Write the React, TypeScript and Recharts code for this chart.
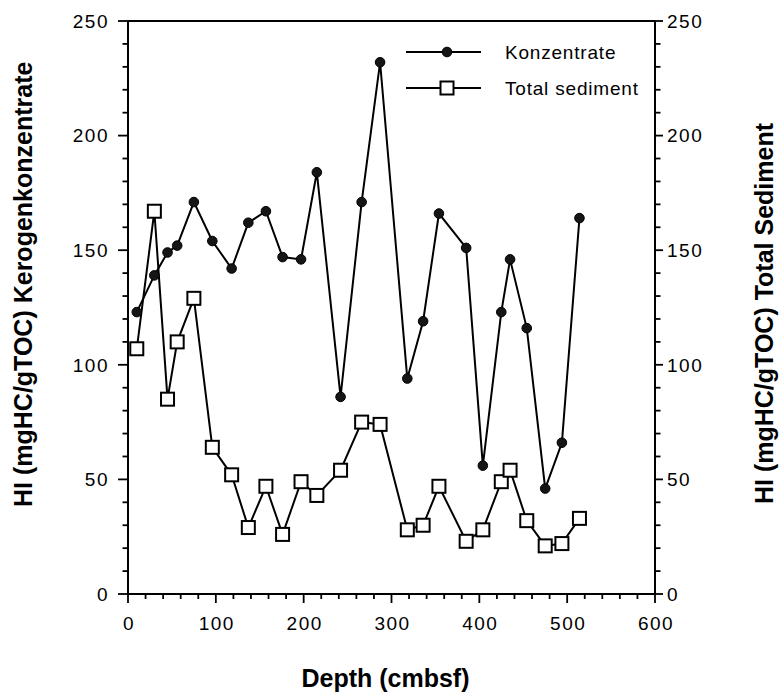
import React from 'react';
import { LineChart, Line, XAxis, YAxis, ReferenceLine, Legend } from 'recharts';

// Depth (cmbsf) of each sample
const depths = [10, 30, 45, 56, 75, 96, 118, 137, 157, 176, 197, 215, 242, 266, 287, 318, 336, 354, 385, 404, 425, 435, 454, 475, 494, 514];
// HI Kerogenkonzentrate
const konzentrate = [123, 139, 149, 152, 171, 154, 142, 162, 167, 147, 146, 184, 86, 171, 232, 94, 119, 166, 151, 56, 123, 146, 116, 46, 66, 164];
// HI Total sediment
const totalSediment = [107, 167, 85, 110, 129, 64, 52, 29, 47, 26, 49, 43, 54, 75, 74, 28, 30, 47, 23, 28, 49, 54, 32, 21, 22, 33];

const xMajorTicks = [0, 100, 200, 300, 400, 500, 600];
const xAllTicks = [0, 20, 40, 60, 80, 100, 120, 140, 160, 180, 200, 220, 240, 260, 280, 300, 320, 340, 360, 380, 400, 420, 440, 460, 480, 500, 520, 540, 560, 580, 600];
const yMajorTicks = [0, 50, 100, 150, 200, 250];
const yAllTicks = [0, 10, 20, 30, 40, 50, 60, 70, 80, 90, 100, 110, 120, 130, 140, 150, 160, 170, 180, 190, 200, 210, 220, 230, 240, 250];

const seriesNames = ['Konzentrate', 'Total sediment'];
const xTitle = 'Depth (cmbsf)';
const leftTitle = 'HI (mgHC/gTOC) Kerogenkonzentrate';
const rightTitle = 'HI (mgHC/gTOC) Total Sediment';

const data = depths.map((d, i) => ({ depth: d, konz: konzentrate[i], total: totalSediment[i] }));

const FONT = '"Liberation Sans", Arial, Helvetica, sans-serif';
const TICK_FS = 19;
const TITLE_FS = 25;

const LeftTick = (props: any) => {
  const { x, y, payload } = props;
  const major = yMajorTicks.includes(payload.value);
  return (
    <g>
      <line x1={x} y1={y} x2={x - (major ? 10 : 5.5)} y2={y} stroke="#000" strokeWidth={1.8} />
      {major && (
        <text x={x - 19} y={y} dy="0.36em" textAnchor="end" fontFamily={FONT} fontSize={TICK_FS} letterSpacing={1.5} fill="#000">
          {payload.value}
        </text>
      )}
    </g>
  );
};

const RightTick = (props: any) => {
  const { x, y, payload } = props;
  const major = yMajorTicks.includes(payload.value);
  return (
    <g>
      <line x1={x} y1={y} x2={x + (major ? 8 : 5.5)} y2={y} stroke="#000" strokeWidth={1.8} />
      {major && (
        <text x={x + 12} y={y} dy="0.36em" textAnchor="start" fontFamily={FONT} fontSize={TICK_FS} letterSpacing={1.5} fill="#000">
          {payload.value}
        </text>
      )}
    </g>
  );
};

const BottomTick = (props: any) => {
  const { x, y, payload } = props;
  const major = xMajorTicks.includes(payload.value);
  return (
    <g>
      <line x1={x} y1={y} x2={x} y2={y + (major ? 9 : 5)} stroke="#000" strokeWidth={1.8} />
      {major && (
        <text x={x + 1} y={y + 36} textAnchor="middle" fontFamily={FONT} fontSize={TICK_FS} letterSpacing={1.5} fill="#000">
          {payload.value}
        </text>
      )}
    </g>
  );
};

const KonzDot = (props: any) => {
  const { cx, cy, index } = props;
  if (cx == null || cy == null) return <g key={`kd-${index}`} />;
  return <circle key={`kd-${index}`} cx={cx} cy={cy} r={4.8} fill="#151515" stroke="#000" strokeWidth={1} />;
};

const TotalDot = (props: any) => {
  const { cx, cy, index } = props;
  if (cx == null || cy == null) return <g key={`td-${index}`} />;
  return <rect key={`td-${index}`} x={cx - 6.5} y={cy - 6.5} width={13} height={13} fill="#fff" stroke="#000" strokeWidth={2} />;
};

const LeftTitleLabel = (props: any) => {
  const vb = props.viewBox || {};
  const cy = vb.y + vb.height - 87;
  const cx = 23;
  return (
    <text x={cx} y={cy} transform={`rotate(-90 ${cx} ${cy})`} textAnchor="start" dominantBaseline="central" fontFamily={FONT} fontWeight="bold" fontSize={TITLE_FS} fill="#000">
      {leftTitle}
    </text>
  );
};

const RightTitleLabel = (props: any) => {
  const vb = props.viewBox || {};
  const cy = vb.y + vb.height / 2 + 6;
  const cx = 764;
  return (
    <text x={cx} y={cy} transform={`rotate(-90 ${cx} ${cy})`} textAnchor="middle" dominantBaseline="central" fontFamily={FONT} fontWeight="bold" fontSize={TITLE_FS} fill="#000">
      {rightTitle}
    </text>
  );
};

const XTitleLabel = (props: any) => {
  const vb = props.viewBox || {};
  const cx = vb.x + vb.width / 2 - 6;
  return (
    <text x={cx} y={678} textAnchor="middle" dominantBaseline="central" fontFamily={FONT} fontWeight="bold" fontSize={TITLE_FS} fill="#000">
      {xTitle}
    </text>
  );
};

const LegendContent = () => (
  <svg width={270} height={80} style={{ display: 'block', overflow: 'visible' }}>
    <g>
      <line x1={6} y1={22} x2={81} y2={22} stroke="#000" strokeWidth={2} />
      <circle cx={47} cy={22} r={4.8} fill="#151515" stroke="#000" strokeWidth={1} />
      <text x={105} y={22} dy="0.36em" fontFamily={FONT} fontSize={TICK_FS} letterSpacing={0.8} fill="#000">{seriesNames[0]}</text>
    </g>
    <g>
      <line x1={6} y1={58} x2={81} y2={58} stroke="#000" strokeWidth={2} />
      <rect x={40.5} y={51.5} width={13} height={13} fill="#fff" stroke="#000" strokeWidth={2} />
      <text x={105} y={58} dy="0.36em" fontFamily={FONT} fontSize={TICK_FS} letterSpacing={0.8} fill="#000">{seriesNames[1]}</text>
    </g>
  </svg>
);

export default function App() {
  return (
    <div style={{ position: 'absolute', left: 0, top: 0, width: 779, height: 694, background: '#fff' }}>
      <LineChart width={779} height={694} data={data} margin={{ top: 21, right: 24, bottom: 40, left: 0 }}>
        <XAxis
          dataKey="depth"
          type="number"
          domain={[0, 600]}
          ticks={xAllTicks}
          interval={0}
          tickSize={0}
          tickMargin={0}
          tickLine={false}
          tick={<BottomTick />}
          axisLine={{ stroke: '#000', strokeWidth: 2 }}
          height={60}
          label={XTitleLabel}
        />
        <YAxis
          yAxisId="left"
          orientation="left"
          type="number"
          domain={[0, 250]}
          ticks={yAllTicks}
          interval={0}
          tickSize={0}
          tickMargin={0}
          tickLine={false}
          tick={<LeftTick />}
          axisLine={{ stroke: '#000', strokeWidth: 2 }}
          width={128}
          label={LeftTitleLabel}
        />
        <YAxis
          yAxisId="right"
          orientation="right"
          type="number"
          domain={[0, 250]}
          ticks={yAllTicks}
          interval={0}
          tickSize={0}
          tickMargin={0}
          tickLine={false}
          tick={<RightTick />}
          axisLine={{ stroke: '#000', strokeWidth: 2 }}
          width={100}
          label={RightTitleLabel}
        />
        <ReferenceLine yAxisId="left" y={250} stroke="#000" strokeWidth={2} />
        <Legend
          layout="vertical"
          align="center"
          verticalAlign="middle"
          content={LegendContent}
          wrapperStyle={{ left: 400, top: 30, width: 270, height: 80 }}
        />
        <Line
          yAxisId="right"
          type="linear"
          dataKey="total"
          name={seriesNames[1]}
          stroke="#000"
          strokeWidth={2}
          dot={TotalDot}
          isAnimationActive={false}
        />
        <Line
          yAxisId="left"
          type="linear"
          dataKey="konz"
          name={seriesNames[0]}
          stroke="#000"
          strokeWidth={2}
          dot={KonzDot}
          isAnimationActive={false}
        />
      </LineChart>
    </div>
  );
}
